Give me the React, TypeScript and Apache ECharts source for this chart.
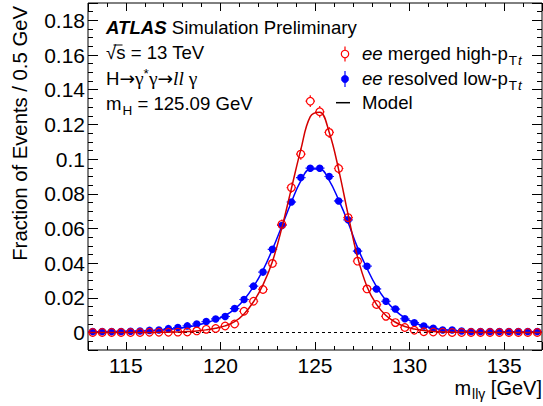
import React, { useEffect, useRef } from 'react';
import * as echarts from 'echarts';

// Bin centres (0.5 GeV bins), GeV
const massBins = [
  113.25, 113.75, 114.25, 114.75, 115.25, 115.75, 116.25, 116.75, 117.25, 117.75,
  118.25, 118.75, 119.25, 119.75, 120.25, 120.75, 121.25, 121.75, 122.25, 122.75,
  123.25, 123.75, 124.25, 124.75, 125.25, 125.75, 126.25, 126.75, 127.25, 127.75,
  128.25, 128.75, 129.25, 129.75, 130.25, 130.75, 131.25, 131.75, 132.25, 132.75,
  133.25, 133.75, 134.25, 134.75, 135.25, 135.75, 136.25, 136.75,
];

// ee merged high-pTt (open red circles)
const mergedHighPt = [
  0.0001, 0.0001, 0.0001, 0.0001, 0.0001, 0.0001, 0.0002, 0.0002, 0.0002, 0.0003,
  0.0004, 0.001, 0.0019, 0.0024, 0.0038, 0.005, 0.0123, 0.0181, 0.0249, 0.0399,
  0.0624, 0.0836, 0.1029, 0.1334, 0.1273, 0.1154, 0.0946, 0.0663, 0.0412, 0.0252,
  0.0162, 0.0094, 0.0058, 0.003, 0.0014, 0.0005, 0.0004, 0.0002, 0.0001, 0.0001,
  0.0001, 0.0001, 0.0001, 0.0001, 0.0001, 0.0001, 0.0001, 0.0001,
];
const mergedHighPtErr = [
  0.0003, 0.0003, 0.0003, 0.0003, 0.0003, 0.0003, 0.0003, 0.0003, 0.0003, 0.0003,
  0.0003, 0.0005, 0.0006, 0.0007, 0.0008, 0.001, 0.0015, 0.0018, 0.002, 0.0024,
  0.0028, 0.003, 0.0032, 0.0034, 0.0033, 0.0032, 0.003, 0.0026, 0.0022, 0.0018,
  0.0015, 0.0012, 0.001, 0.0008, 0.0006, 0.0003, 0.0003, 0.0003, 0.0003, 0.0003,
  0.0003, 0.0003, 0.0003, 0.0003, 0.0003, 0.0003, 0.0003, 0.0003,
];

// ee resolved low-pTt (filled blue circles)
const resolvedLowPt = [
  0.0006, 0.0006, 0.0006, 0.0007, 0.0008, 0.001, 0.0013, 0.0015, 0.0023, 0.0029,
  0.0039, 0.005, 0.0064, 0.0079, 0.0093, 0.0139, 0.0191, 0.0268, 0.0349, 0.048,
  0.0618, 0.0753, 0.0894, 0.0948, 0.0948, 0.09, 0.0759, 0.065, 0.047, 0.0383,
  0.0252, 0.0181, 0.0136, 0.008, 0.0057, 0.0038, 0.0025, 0.0015, 0.0015, 0.001,
  0.0007, 0.0006, 0.0006, 0.0006, 0.0006, 0.0006, 0.0006, 0.0006,
];
const resolvedLowPtErr = [
  0.0002, 0.0002, 0.0002, 0.0002, 0.0002, 0.0002, 0.0003, 0.0003, 0.0003, 0.0004,
  0.0004, 0.0005, 0.0005, 0.0006, 0.0006, 0.0007, 0.0008, 0.0009, 0.001, 0.0012,
  0.0013, 0.0014, 0.0015, 0.0016, 0.0016, 0.0015, 0.0014, 0.0013, 0.0012, 0.001,
  0.0009, 0.0008, 0.0007, 0.0006, 0.0005, 0.0004, 0.0004, 0.0003, 0.0003, 0.0003,
  0.0002, 0.0002, 0.0002, 0.0002, 0.0002, 0.0002, 0.0002, 0.0002,
];

// Model curves, read at the axis edges and bin centres
const modelMass = [
  113, 113.25, 113.75, 114.25, 114.75, 115.25, 115.75, 116.25, 116.75, 117.25, 117.75,
  118.25, 118.75, 119.25, 119.75, 120.25, 120.75, 121.25, 121.75, 122.25, 122.75,
  123.25, 123.75, 124.25, 124.75, 125.25, 125.75, 126.25, 126.75, 127.25, 127.75,
  128.25, 128.75, 129.25, 129.75, 130.25, 130.75, 131.25, 131.75, 132.25, 132.75,
  133.25, 133.75, 134.25, 134.75, 135.25, 135.75, 136.25, 136.75, 137,
];
const mergedModel = [
  0.0001, 0.0001, 0.0001, 0.0001, 0.0001, 0.0001, 0.0001, 0.0001, 0.0002, 0.0003, 0.0004,
  0.0006, 0.001, 0.0016, 0.0025, 0.0039, 0.0063, 0.0108, 0.0178, 0.0275, 0.041,
  0.0605, 0.083, 0.1055, 0.1245, 0.127, 0.1155, 0.094, 0.068, 0.0435, 0.0265,
  0.0163, 0.0099, 0.006, 0.0035, 0.0021, 0.0012, 0.0007, 0.0004, 0.0003, 0.0002,
  0.0002, 0.0001, 0.0001, 0.0001, 0.0001, 0.0001, 0.0001, 0.0001, 0.0001,
];
const resolvedModel = [
  0.0005, 0.0005, 0.0006, 0.0006, 0.0007, 0.0008, 0.0009, 0.0011, 0.0014, 0.0018, 0.0024,
  0.0032, 0.0043, 0.0057, 0.0075, 0.0099, 0.0136, 0.019, 0.0265, 0.036, 0.048,
  0.0615, 0.0752, 0.0875, 0.0943, 0.0943, 0.0878, 0.0765, 0.0635, 0.049, 0.037,
  0.0265, 0.0185, 0.0127, 0.0085, 0.0057, 0.0038, 0.0026, 0.0018, 0.0013, 0.001,
  0.0008, 0.0007, 0.0006, 0.0006, 0.0005, 0.0005, 0.0005, 0.0005, 0.0005,
];

const xTickValues = [115, 120, 125, 130, 135];
const xTickLabels = ['115', '120', '125', '130', '135'];
const yTickValues = [0, 0.02, 0.04, 0.06, 0.08, 0.1, 0.12, 0.14, 0.16, 0.18];
const yTickLabels = ['0', '0.02', '0.04', '0.06', '0.08', '0.1', '0.12', '0.14', '0.16', '0.18'];

const FONT = 'Liberation Sans, Arial, Helvetica, sans-serif';
const SERIF = 'Liberation Serif, Times New Roman, serif';
const ARROW = 'DejaVu Sans, sans-serif';
const RED = '#ff0000';
const RED_LINE = '#d40000';
const BLUE = '#0000ff';

function labelFor(values: number[], labels: string[], v: number) {
  for (let i = 0; i < values.length; i++) {
    if (Math.abs(values[i] - v) < 1e-9) return labels[i];
  }
  return '';
}

function errorBars(values: number[], errs: number[], color: string, radius: number) {
  return {
    type: 'custom',
    xAxisIndex: 0,
    yAxisIndex: 0,
    silent: true,
    z: 3,
    data: massBins.map((m, i) => [m, values[i], errs[i]]),
    renderItem: (_params: any, api: any) => {
      const x = api.value(0);
      const y = api.value(1);
      const e = api.value(2);
      const c = api.coord([x, y]);
      const t = api.coord([x, y + e]);
      const b = api.coord([x, y - e]);
      const l = api.coord([x - 0.25, y]);
      const r = api.coord([x + 0.25, y]);
      const style = { stroke: color, lineWidth: 1.2 };
      const children: any[] = [
        { type: 'line', shape: { x1: l[0], y1: c[1], x2: c[0] - radius, y2: c[1] }, style },
        { type: 'line', shape: { x1: c[0] + radius, y1: c[1], x2: r[0], y2: c[1] }, style },
      ];
      if (c[1] - t[1] > radius) {
        children.push({ type: 'line', shape: { x1: c[0], y1: t[1], x2: c[0], y2: c[1] - radius }, style });
        children.push({ type: 'line', shape: { x1: c[0], y1: c[1] + radius, x2: c[0], y2: b[1] }, style });
      }
      return { type: 'group', children };
    },
  };
}

function xAxisDef(position: 'bottom' | 'top', major: boolean) {
  return {
    type: 'value',
    position,
    min: 113,
    max: 137,
    ...(major ? { splitNumber: 5 } : { interval: 1 }),
    axisLine: { show: false, onZero: false },
    axisTick: { show: true, inside: true, length: major ? 8 : 4, lineStyle: { color: '#000', width: 1 } },
    axisLabel: {
      show: major && position === 'bottom',
      color: '#000',
      fontFamily: FONT,
      fontSize: 21,
      lineHeight: 18,
      margin: 6,
      formatter: (v: number) => labelFor(xTickValues, xTickLabels, v),
    },
    splitLine: { show: false },
    minorTick: { show: false },
  };
}

function yAxisDef(position: 'left' | 'right', major: boolean) {
  return {
    type: 'value',
    position,
    min: -0.01,
    max: 0.19,
    ...(major ? { splitNumber: 10 } : { interval: 0.005 }),
    axisLine: { show: false, onZero: false },
    axisTick: { show: true, inside: true, length: major ? 10 : 5, lineStyle: { color: '#000', width: 1 } },
    axisLabel: {
      show: major && position === 'left',
      color: '#000',
      fontFamily: FONT,
      fontSize: 21,
      margin: 3,
      formatter: (v: number) => labelFor(yTickValues, yTickLabels, v),
    },
    splitLine: { show: false },
    minorTick: { show: false },
  };
}

const FS = 18.6;
const rich18 = {
  n: { fontFamily: FONT, fontSize: FS, lineHeight: 30, fill: '#000' },
  a: { fontFamily: ARROW, fontSize: FS, lineHeight: 30, fill: '#000' },
  b: { fontFamily: FONT, fontSize: FS, lineHeight: 30, fontWeight: 'bold', fontStyle: 'italic', fill: '#000' },
  i: { fontFamily: FONT, fontSize: FS, lineHeight: 30, fontStyle: 'italic', fill: '#000' },
  g: { fontFamily: SERIF, fontSize: 19.5, lineHeight: 30, fill: '#000' },
  il: { fontFamily: SERIF, fontSize: 19.5, lineHeight: 30, fontStyle: 'italic', fill: '#000' },
  sub: { fontFamily: FONT, fontSize: 13.5, padding: [14, 0, 0, 1], fill: '#000' },
  subi: { fontFamily: FONT, fontSize: 13.5, fontStyle: 'italic', padding: [14, 0, 0, 1], fill: '#000' },
  sup: { fontFamily: FONT, fontSize: 13.5, padding: [0, 0, 10, 0], fill: '#000' },
};

function txt(x: number, y: number, text: string, align: string = 'left', extra: any = {}) {
  return {
    type: 'text',
    x,
    y,
    silent: true,
    z: 100,
    ...extra,
    style: {
      text,
      rich: rich18,
      fill: '#000',
      font: `${FS}px ${FONT}`,
      align,
      verticalAlign: 'middle',
      textAlign: align,
      textVerticalAlign: 'middle',
    },
  };
}

export default function App() {
  const ref = useRef<HTMLDivElement>(null);

  useEffect(() => {
    if (!ref.current) return;
    const chart = echarts.init(ref.current, undefined, { renderer: 'svg' });

    const rich20 = {
      n: { fontFamily: FONT, fontSize: 20, lineHeight: 22, fill: '#000' },
      sub: { fontFamily: FONT, fontSize: 14, padding: [12, 0, 0, 1], fill: '#000' },
    };

    chart.setOption({
      animation: false,
      backgroundColor: '#fff',
      grid: {
        left: 88,
        right: 1,
        top: 3,
        bottom: 56,
        show: true,
        borderColor: '#000',
        borderWidth: 1,
        backgroundColor: 'transparent',
        containLabel: false,
        outerBoundsMode: 'none',
      },
      xAxis: [
        xAxisDef('bottom', true),
        xAxisDef('bottom', false),
        xAxisDef('top', true),
        xAxisDef('top', false),
      ],
      yAxis: [
        yAxisDef('left', true),
        yAxisDef('left', false),
        yAxisDef('right', true),
        yAxisDef('right', false),
      ],
      series: [
        {
          name: 'zero',
          type: 'line',
          data: [],
          silent: true,
          markLine: {
            silent: true,
            symbol: ['none', 'none'],
            label: { show: false },
            lineStyle: { color: '#000', width: 1, type: [3, 3] },
            data: [{ yAxis: 0 }],
          },
        },
        errorBars(resolvedLowPt, resolvedLowPtErr, BLUE, 3.5),
        {
          name: 'ee resolved low-pTt',
          type: 'scatter',
          data: massBins.map((m, i) => [m, resolvedLowPt[i]]),
          symbol: 'circle',
          symbolSize: 7.5,
          itemStyle: { color: BLUE, opacity: 1 },
          silent: true,
          z: 3,
        },
        {
          name: 'Model resolved',
          type: 'line',
          data: modelMass.map((m, i) => [m, resolvedModel[i]]),
          smooth: 0.4,
          showSymbol: false,
          symbol: 'none',
          lineStyle: { color: BLUE, width: 1.5 },
          silent: true,
          z: 4,
        },
        errorBars(mergedHighPt, mergedHighPtErr, RED, 3.8),
        {
          name: 'ee merged high-pTt',
          type: 'scatter',
          data: massBins.map((m, i) => [m, mergedHighPt[i]]),
          symbol: 'circle',
          symbolSize: 7.6,
          itemStyle: { color: 'transparent', borderColor: RED, borderWidth: 1.2, opacity: 1 },
          silent: true,
          z: 5,
        },
        {
          name: 'Model merged',
          type: 'line',
          data: modelMass.map((m, i) => [m, mergedModel[i]]),
          smooth: 0.4,
          showSymbol: false,
          symbol: 'none',
          lineStyle: { color: RED_LINE, width: 1.5 },
          silent: true,
          z: 6,
        },
      ],
      graphic: [
        txt(106, 27, '{b|ATLAS}{n| Simulation Preliminary}'),
        txt(106, 52, '{n|√s = 13 TeV}'),
        { type: 'line', silent: true, z: 100, shape: { x1: 113.5, y1: 45, x2: 122.5, y2: 45 }, style: { stroke: '#000', lineWidth: 1 } },
        txt(106, 78, '{n|H}{a|→}{g|γ}{sup|*}{g|γ}{a|→}{il|ll}{g| γ}'),
        txt(106, 103, '{n|m}{sub|H}{n| = 125.09 GeV}'),
        // legend
        { type: 'line', silent: true, z: 100, shape: { x1: 345, y1: 46.5, x2: 345, y2: 50.2 }, style: { stroke: RED, lineWidth: 1.2 } },
        { type: 'line', silent: true, z: 100, shape: { x1: 345, y1: 57.8, x2: 345, y2: 61.5 }, style: { stroke: RED, lineWidth: 1.2 } },
        { type: 'circle', silent: true, z: 100, shape: { cx: 345, cy: 54, r: 3.7 }, style: { fill: 'transparent', stroke: RED, lineWidth: 1.2 } },
        { type: 'line', silent: true, z: 100, shape: { x1: 345, y1: 71, x2: 345, y2: 87 }, style: { stroke: BLUE, lineWidth: 1.2 } },
        { type: 'circle', silent: true, z: 100, shape: { cx: 345, cy: 79, r: 3.7 }, style: { fill: BLUE, stroke: BLUE, lineWidth: 0.5 } },
        { type: 'line', silent: true, z: 100, shape: { x1: 336, y1: 102.7, x2: 350, y2: 102.7 }, style: { stroke: '#000', lineWidth: 1.5 } },
        txt(362, 53, '{i|ee}{n| merged high-p}{sub|T}{subi|t}'),
        txt(362, 78, '{i|ee}{n| resolved low-p}{sub|T}{subi|t}'),
        txt(362, 102.5, '{n|Model}'),
        // axis titles
        {
          type: 'text',
          x: 542,
          y: 388,
          silent: true,
          z: 100,
          style: {
            text: '{n|m}{sub|llγ}{n| [GeV]}',
            rich: rich20,
            fill: '#000',
            font: `20px ${FONT}`,
            align: 'right',
            verticalAlign: 'middle',
            textAlign: 'right',
            textVerticalAlign: 'middle',
          },
        },
        {
          type: 'text',
          x: 20,
          y: 6,
          rotation: Math.PI / 2,
          silent: true,
          z: 100,
          style: {
            text: 'Fraction of Events / 0.5 GeV',
            fill: '#000',
            font: `20.3px ${FONT}`,
            align: 'right',
            verticalAlign: 'middle',
            textAlign: 'right',
            textVerticalAlign: 'middle',
          },
        },
      ],
    });

    return () => {
      chart.dispose();
    };
  }, []);

  return (
    <div
      ref={ref}
      style={{ position: 'absolute', left: 0, top: 0, width: 543, height: 406, background: '#fff' }}
    />
  );
}
